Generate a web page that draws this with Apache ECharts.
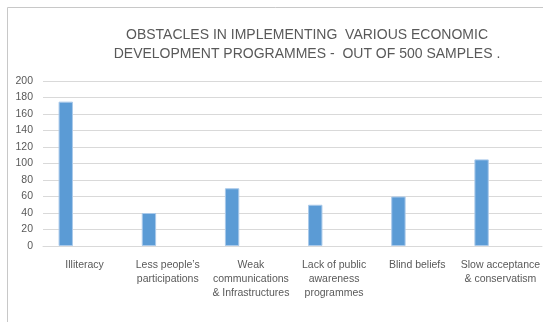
<!DOCTYPE html>
<html>
<head>
<meta charset="utf-8">
<script src="https://cdn.jsdelivr.net/npm/echarts@6/dist/echarts.min.js"></script>
<style>
  html, body { margin: 0; padding: 0; background: #fff; }
  #chart { width: 543px; height: 322px; }
</style>
</head>
<body>
<div id="chart"></div>
<script>
// Obstacles named by respondents (out of 500 samples)
const categories = [
  'Illiteracy',
  'Less people\u2019s\nparticipations',
  'Weak\ncommunications\n& Infrastructures',
  'Lack of public\nawareness\nprogrammes',
  'Blind beliefs',
  'Slow acceptance\n& conservatism'
];
const responses = [175, 40, 70, 50, 60, 105];
const yTicks = { min: 0, max: 200, interval: 20 };

const textColor = '#595959';
const font = '"Liberation Sans", "Open Sans", sans-serif';

const chart = echarts.init(document.getElementById('chart'), null, { renderer: 'canvas' });
chart.setOption({
  animation: false,
  backgroundColor: '#ffffff',
  graphic: [{
    type: 'rect',
    shape: { x: 7.5, y: 7.5, width: 600, height: 400 },
    style: { fill: 'none', stroke: '#c8c8c8', lineWidth: 1 },
    silent: true,
    z: -1
  }],
  title: {
    text: 'OBSTACLES IN IMPLEMENTING  VARIOUS ECONOMIC\nDEVELOPMENT PROGRAMMES -  OUT OF 500 SAMPLES .',
    left: 302,
    top: 21,
    textAlign: 'center',
    textStyle: {
      color: textColor,
      fontFamily: font,
      fontWeight: 'normal',
      fontSize: 14,
      lineHeight: 19
    }
  },
  grid: { left: 43, right: 0, top: 81, bottom: 76, containLabel: false },
  xAxis: {
    type: 'category',
    data: categories,
    axisLine: { lineStyle: { color: '#d9d9d9' } },
    axisTick: { show: false },
    axisLabel: {
      color: textColor,
      fontFamily: font,
      fontSize: 10.5,
      lineHeight: 14,
      margin: 12,
      interval: 0
    }
  },
  yAxis: {
    type: 'value',
    min: yTicks.min,
    max: yTicks.max,
    interval: yTicks.interval,
    axisLine: { show: false },
    axisTick: { show: false },
    splitLine: { lineStyle: { color: '#d9d9d9' } },
    axisLabel: {
      color: textColor,
      fontFamily: font,
      fontSize: 10.5,
      margin: 10
    }
  },
  series: [
    {
      type: 'bar',
      data: responses,
      barCategoryGap: '37.5%',
      barGap: '31%',
      itemStyle: { color: '#5b9bd5', borderColor: '#a9c9ea', borderWidth: 1 }
    },
    { type: 'bar', data: categories.map(() => null) },
    { type: 'bar', data: categories.map(() => null) }
  ]
});
</script>
</body>
</html>
